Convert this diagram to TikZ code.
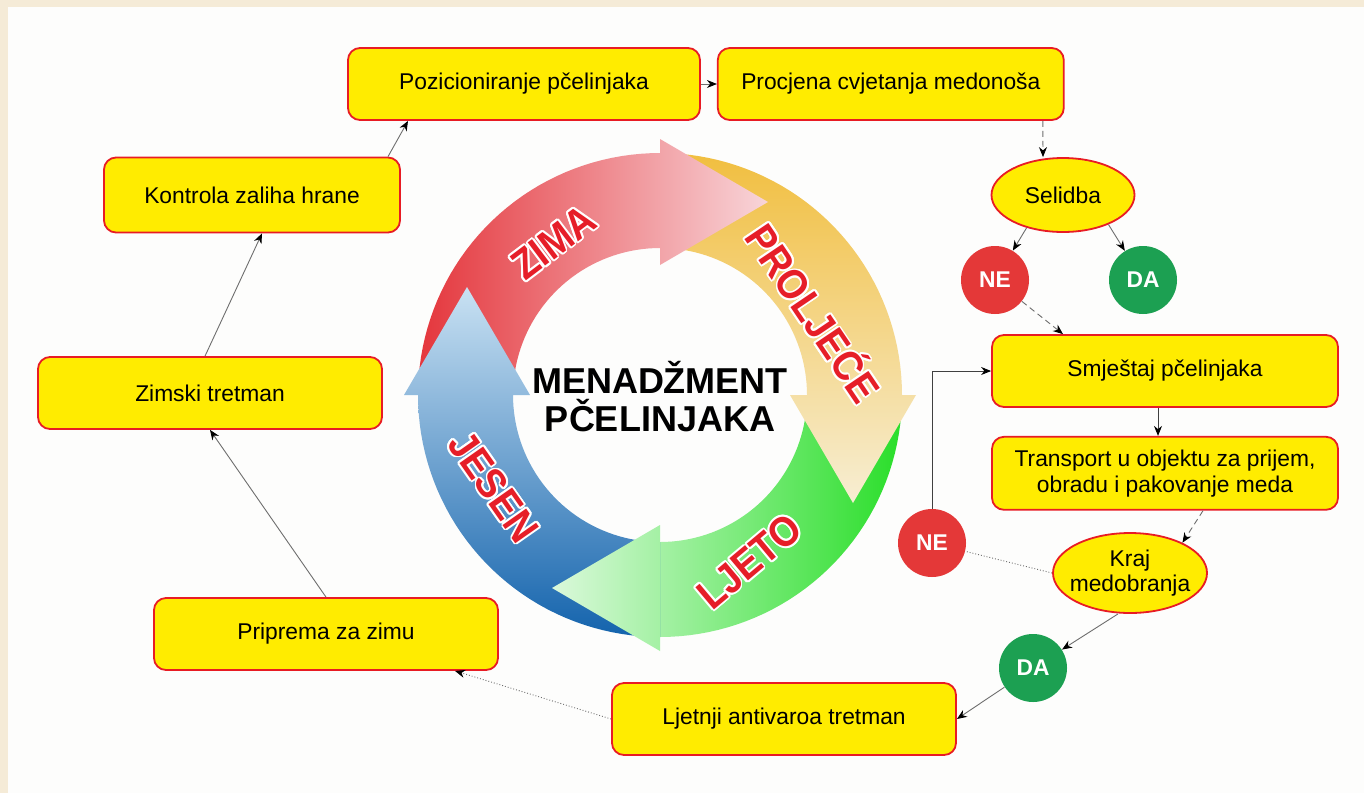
\documentclass[tikz,border=0pt]{standalone}
\usepackage{fontspec}
\setmainfont{Liberation Sans}
\newfontfamily\seasonfont[FakeStretch=0.9]{Liberation Sans}
\usepackage{contour}
\usepackage{tikz}
\usetikzlibrary{positioning, shapes.geometric}
\usetikzlibrary{calc, arrows.meta}
\contourlength{0.9pt}
\definecolor{beige}{RGB}{245,235,215}
\definecolor{paper}{RGB}{253,253,252}
\definecolor{boxyellow}{RGB}{255,236,0}
\definecolor{boxred}{RGB}{232,28,36}
\definecolor{nered}{RGB}{228,56,56}
\definecolor{dagreen}{RGB}{28,160,82}
\definecolor{linegray}{RGB}{110,110,110}
\definecolor{seasonred}{RGB}{230,30,40}
\definecolor{zimared}{RGB}{228,52,58}
\definecolor{zimapale}{RGB}{248,214,218}
\definecolor{proljecegold}{RGB}{241,190,62}
\definecolor{proljecepale}{RGB}{247,238,212}
\definecolor{ljetogreen}{RGB}{40,222,40}
\definecolor{ljetopale}{RGB}{220,249,220}
\definecolor{jesenblue}{RGB}{18,98,172}
\definecolor{jesenpale}{RGB}{202,226,243}
\tikzstyle{stepbox} = [rectangle, rounded corners=6pt, minimum width=172pt, minimum height=36pt, text centered, draw=boxred, fill=boxyellow, line width=0.9pt]
\tikzstyle{decision} = [ellipse, text centered, draw=boxred, fill=boxyellow, line width=0.9pt, inner sep=0pt]
\tikzstyle{answer} = [circle, minimum size=34pt, inner sep=0pt, text=white, font=\bfseries\fontsize{11.4}{12}\selectfont]
\tikzstyle{arrow} = [draw=linegray, line width=0.45pt, -{Stealth[length=5pt, width=4pt, color=black]}]
\tikzstyle{plainline} = [draw=linegray, line width=0.45pt]
\tikzstyle{season} = [text=seasonred, font=\seasonfont\bfseries\fontsize{21}{21}\selectfont]
\tikzstyle{every node}=[font=\fontsize{11.4}{12.8}\selectfont]

\begin{document}
\begin{tikzpicture}[x=0.5pt, y=-0.5pt]
		\useasboundingbox (0,0) rectangle (1364,793);
		\fill[beige] (0,0) rectangle (1364,793);
		\fill[paper] (8,7) rectangle (1364,793);
		
		% kotac: tijela strelica
		\begin{scope}[shift={(660,395)}]
			\foreach \a/\cs/\cp/\sa [evaluate=\a as \b using \a+90] in {180/zimared/zimapale/-90, 270/proljecegold/proljecepale/180, 0/ljetogreen/ljetopale/90, 90/jesenblue/jesenpale/0}{
				\begin{scope}
					\clip plot[domain=\a:\b, samples=40] (\x:242) -- plot[domain=\b:\a, samples=40] (\x:147) -- cycle;
					\shade[bottom color=\cs, top color=\cp, shading angle=\sa] ($(\a:245)+(\b:260)$) rectangle ($(\a+180:110)+(\b+180:260)$);
				\end{scope}
			}
			% vrhovi strelica
			\foreach \a/\cs/\cp/\sa [evaluate=\a as \b using \a+90] in {180/zimared/zimapale/-90, 270/proljecegold/proljecepale/180, 0/ljetogreen/ljetopale/90, 90/jesenblue/jesenpale/0}{
				\begin{scope}
					\clip (\b:130) -- (\b:256) -- ($(\b:193)+(\a+180:108)$) -- cycle;
					\shade[bottom color=\cs, top color=\cp, shading angle=\sa] ($(\a:245)+(\b:260)$) rectangle ($(\a+180:110)+(\b+180:260)$);
				\end{scope}
			}
		\end{scope}
		
		\node (zima) [season, rotate=37] at (554,243) {\contour{white}{ZIMA}};
		\node (proljece) [season, rotate=-56] at (815,312) {\contour{white}{PROLJEĆE}};
		\node (ljeto) [season, rotate=40] at (750,562) {\contour{white}{LJETO}};
		\node (jesen) [season, rotate=-55] at (493,487) {\contour{white}{JESEN}};
		\node (naslov) [align=center, font=\bfseries\fontsize{18}{19}\selectfont] at (660,397) {MENADŽMENT\\PČELINJAKA};
		
		% koraci
		\node (pozicija) [stepbox, minimum width=176pt] at (524,84) {Pozicioniranje pčelinjaka};
		\node (procjena) [stepbox, minimum width=173pt, right=8pt of pozicija] {Procjena cvjetanja medonoša};
		\node (selidba) [decision, minimum width=71.5pt, minimum height=37pt] at (1063,195) {Selidba};
		\node (ne) [answer, fill=nered] at (995,280) {NE};
		\node (da) [answer, fill=dagreen] at (1143,280) {DA};
		\node (smjestaj) [stepbox, minimum width=173pt] at (1165,371) {Smještaj pčelinjaka};
		\node (transport) [stepbox, minimum width=173pt, minimum height=36.5pt, below=14pt of smjestaj, align=center] {Transport u objektu za prijem,\\obradu i pakovanje meda};
		\node (kraj) [decision, minimum width=77pt, minimum height=40pt, inner xsep=-4pt, align=center] at (1130,573) {Kraj\\medobranja};
		\node (ne2) [answer, fill=nered] at (932,543) {NE};
		\node (da2) [answer, fill=dagreen] at (1033,668) {DA};
		\node (ljetnji) [stepbox] at (784,719) {Ljetnji antivaroa tretman};
		\node (priprema) [stepbox] at (326,634) {Priprema za zimu};
		\node (zimski) [stepbox] at (210,393) {Zimski tretman};
		\node (kontrola) [stepbox, minimum width=148pt, minimum height=37.5pt] at (252,195) {Kontrola zaliha hrane};
		
		% veze
		\draw [arrow] ($(zimski.north)+(-5,0)$) -- ($(kontrola.south)+(10,0)$);
		\draw [arrow] ($(kontrola.north)+(136,0)$) -- ($(pozicija.south)+(-116,0)$);
		\draw [arrow] (pozicija.east) -- (procjena.west);
		\draw [arrow, densely dashed] ($(procjena.south)+(152,0)$) -- ($(selidba.north)+(-20,0)$);
		\draw [arrow] (selidba.222) -- (ne);
		\draw [arrow] (selidba.-33) -- (da);
		\draw [arrow, densely dashed] (ne) -- ($(smjestaj.north)+(-102,0)$);
		\draw [arrow, draw=black!75] (ne2.north) |- (smjestaj.west);
		\draw [arrow, draw=black!75] ($(smjestaj.south)+(-7,0)$) -- ($(transport.north)+(-7,0)$);
		\draw [arrow, densely dashed] ($(transport.south)+(38,0)$) -- (kraj.30);
		\draw [plainline, densely dotted] (kraj.west) -- (ne2);
		\draw [arrow] ($(kraj.south)+(-12,0)$) -- (da2);
		\draw [arrow] (da2) -- (ljetnji.east);
		\draw [arrow, densely dotted] (ljetnji.west) -- ($(priprema.south)+(129,0)$);
		\draw [arrow] (priprema.north) -- (zimski.south);
		
\end{tikzpicture}
\end{document}
